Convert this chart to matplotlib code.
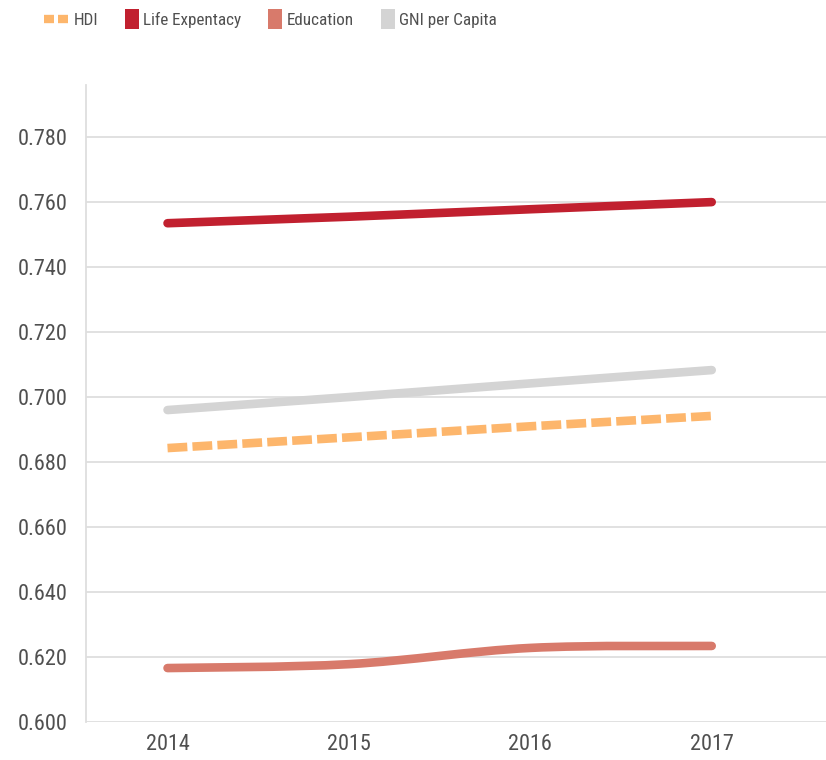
import matplotlib.pyplot as plt
import numpy as np
from matplotlib.path import Path
from matplotlib.patches import PathPatch, Patch, Rectangle
from matplotlib.lines import Line2D
from matplotlib.legend_handler import HandlerPatch
from matplotlib import font_manager

# data
years = [2014, 2015, 2016, 2017]
hdi = [0.6843, 0.6876, 0.6910, 0.6942]
life = [0.7535, 0.7555, 0.7578, 0.7600]
education = [0.6166, 0.6178, 0.6228, 0.6234]
gni = [0.6960, 0.7000, 0.7042, 0.7083]
yticks = [0.600, 0.620, 0.640, 0.660, 0.680, 0.700, 0.720, 0.740, 0.760, 0.780]

c_hdi = '#FDB66C'
c_life = '#C1202F'
c_edu = '#D87A6B'
c_gni = '#D4D4D4'
txt = '#505050'
grid = '#DEDEDE'

names = {f.name for f in font_manager.fontManager.ttflist}
fam = [n for n in ['Roboto Condensed', 'Liberation Sans Narrow'] if n in names]
plt.rcParams['font.family'] = fam + ['Roboto', 'DejaVu Sans']

fig = plt.figure(figsize=(8.26, 7.6), dpi=100)
ax = fig.add_axes([0.104, 0.05, 0.896, 0.838])

lw = 6.2
ax.plot(years, gni, color=c_gni, lw=lw, solid_capstyle='round', zorder=3)
ax.plot(years, life, color=c_life, lw=lw, solid_capstyle='round', zorder=3)
ax.plot(years, hdi, color=c_hdi, lw=lw, dashes=(2.3, 0.6), dash_capstyle='butt', zorder=3)

# smoothed education line (bezier through the points)
x = np.array(years, dtype=float)
y = np.array(education)
verts = [(x[0], y[0])]
codes = [Path.MOVETO]
for i in range(len(x) - 1):
    x0, y0 = (x[i - 1], y[i - 1]) if i > 0 else (x[i], y[i])
    x3, y3 = (x[i + 2], y[i + 2]) if i + 2 < len(x) else (x[i + 1], y[i + 1])
    c1 = (x[i] + (x[i + 1] - x0) / 6, y[i] + (y[i + 1] - y0) / 6)
    c2 = (x[i + 1] - (x3 - x[i]) / 6, y[i + 1] - (y3 - y[i]) / 6)
    verts += [c1, c2, (x[i + 1], y[i + 1])]
    codes += [Path.CURVE4] * 3
ax.add_patch(PathPatch(Path(verts, codes), fill=False, edgecolor=c_edu,
                       lw=lw, capstyle='round', zorder=3))

ax.set_xlim(2013.55, 2017.63)
ax.set_ylim(0.600, 0.796)
ax.set_xticks(years)
ax.set_yticks(yticks)
ax.set_yticklabels(['%.3f' % v for v in yticks])
ax.tick_params(axis='both', length=0, colors=txt, labelsize=16)
ax.tick_params(axis='y', pad=13)
ax.tick_params(axis='x', pad=9)
ax.grid(axis='y', color=grid, lw=1.3, zorder=0)
ax.set_axisbelow(True)
for s in ['top', 'right', 'bottom']:
    ax.spines[s].set_visible(False)
ax.spines['left'].set_color(grid)
ax.spines['left'].set_linewidth(1.3)


def square(legend, orig_handle, xdescent, ydescent, width, height, fontsize):
    # narrow tall swatch, pushed to the right of the handle box
    return Rectangle((-xdescent + width - 10, -ydescent + height / 2 - 7.2), 10, 14.4)


handles = [
    Line2D([0], [0], color=c_hdi, lw=6, dashes=(1.2, 0.48)),
    Patch(facecolor=c_life),
    Patch(facecolor=c_edu),
    Patch(facecolor=c_gni),
]
labels = ['HDI', 'Life Expentacy', 'Education', 'GNI per Capita']
fig.legend(handles, labels, loc='upper left', bbox_to_anchor=(0.035, 1.004), ncol=4,
           frameon=False, fontsize=12.3, labelcolor=txt, handlelength=1.45,
           handletextpad=0.25, columnspacing=0.95,
           handler_map={Patch: HandlerPatch(patch_func=square)})

fig.savefig('out.png', dpi=100)
